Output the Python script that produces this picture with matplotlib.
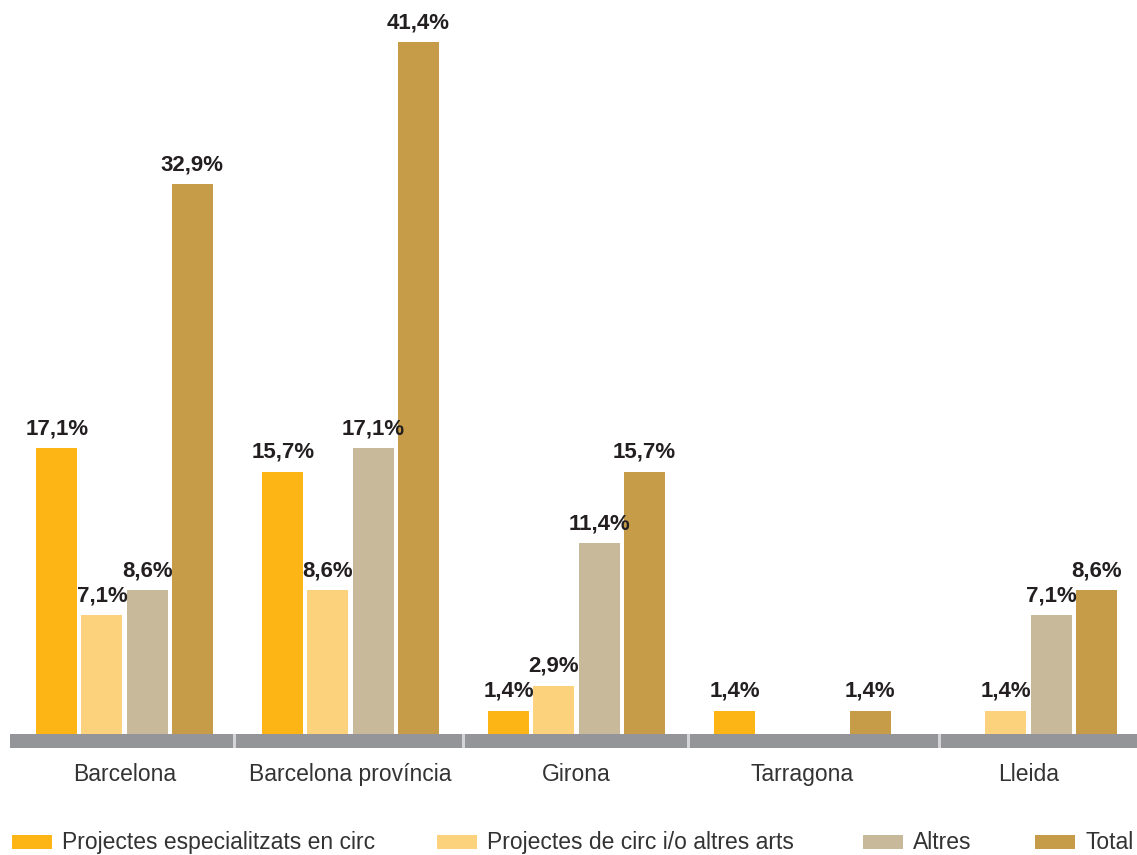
import matplotlib.pyplot as plt
import numpy as np
from matplotlib.patches import Rectangle

plt.rcParams['font.family'] = ['Liberation Sans', 'DejaVu Sans']

# Data
categories = ['Barcelona', 'Barcelona província', 'Girona', 'Tarragona', 'Lleida']
series_names = ['Projectes especialitzats en circ', 'Projectes de circ i/o altres arts', 'Altres', 'Total']
especialitzats = [17.1, 15.7, 1.4, 1.4, 0]
circ_altres = [7.1, 8.6, 2.9, 0, 1.4]
altres = [8.6, 17.1, 11.4, 0, 7.1]
total = [32.9, 41.4, 15.7, 1.4, 8.6]

colors = ['#FDB515', '#FDD27C', '#C9B99B', '#C69C49']
series = [especialitzats, circ_altres, altres, total]

fig = plt.figure(figsize=(11.37, 8.55), dpi=100)
ax = fig.add_axes([0, 0, 1, 1])
ax.set_xlim(-0.551, 4.480)
ax.set_ylim(-7.24, 43.92)
ax.axis('off')

x = np.arange(len(categories))
step = 0.2
width = 0.181
for i, (vals, col) in enumerate(zip(series, colors)):
    pos = x + (i - 1.5) * step
    for xp, v in zip(pos, vals):
        if v <= 0:
            continue
        ax.bar(xp, v, width=width, color=col, zorder=2)
        ax.annotate(f'{v:.1f}%'.replace('.', ','), (xp, v), xytext=(0, 10),
                    textcoords='offset points', ha='center', va='baseline',
                    fontsize=16, fontweight='bold', color='#231f20')

# grey baseline band with separators
ax.add_patch(Rectangle((-0.507, -0.84), 5.2, 0.84, color='#939598', zorder=3, lw=0))
for sx in [0.480, 1.493, 2.489, 3.600]:
    ax.add_patch(Rectangle((sx, -0.84), 0.012, 0.84, color='#d4d4d6', zorder=4, lw=0))

# category labels
for xi, c in zip(x, categories):
    ax.text(xi, -2.4, c, ha='center', va='center', fontsize=16.5, color='#333333')

# legend
leg_x = [12, 437, 863, 1035]
for lx, name, col in zip(leg_x, series_names, colors):
    ax.add_patch(Rectangle((lx / 1137, 6 / 855), 40 / 1137, 14 / 855,
                           transform=ax.transAxes, color=col, lw=0))
    ax.text((lx + 50) / 1137, 13 / 855, name, transform=ax.transAxes,
            ha='left', va='center', fontsize=16.5, color='#333333')

fig.savefig('out.png', dpi=100)
